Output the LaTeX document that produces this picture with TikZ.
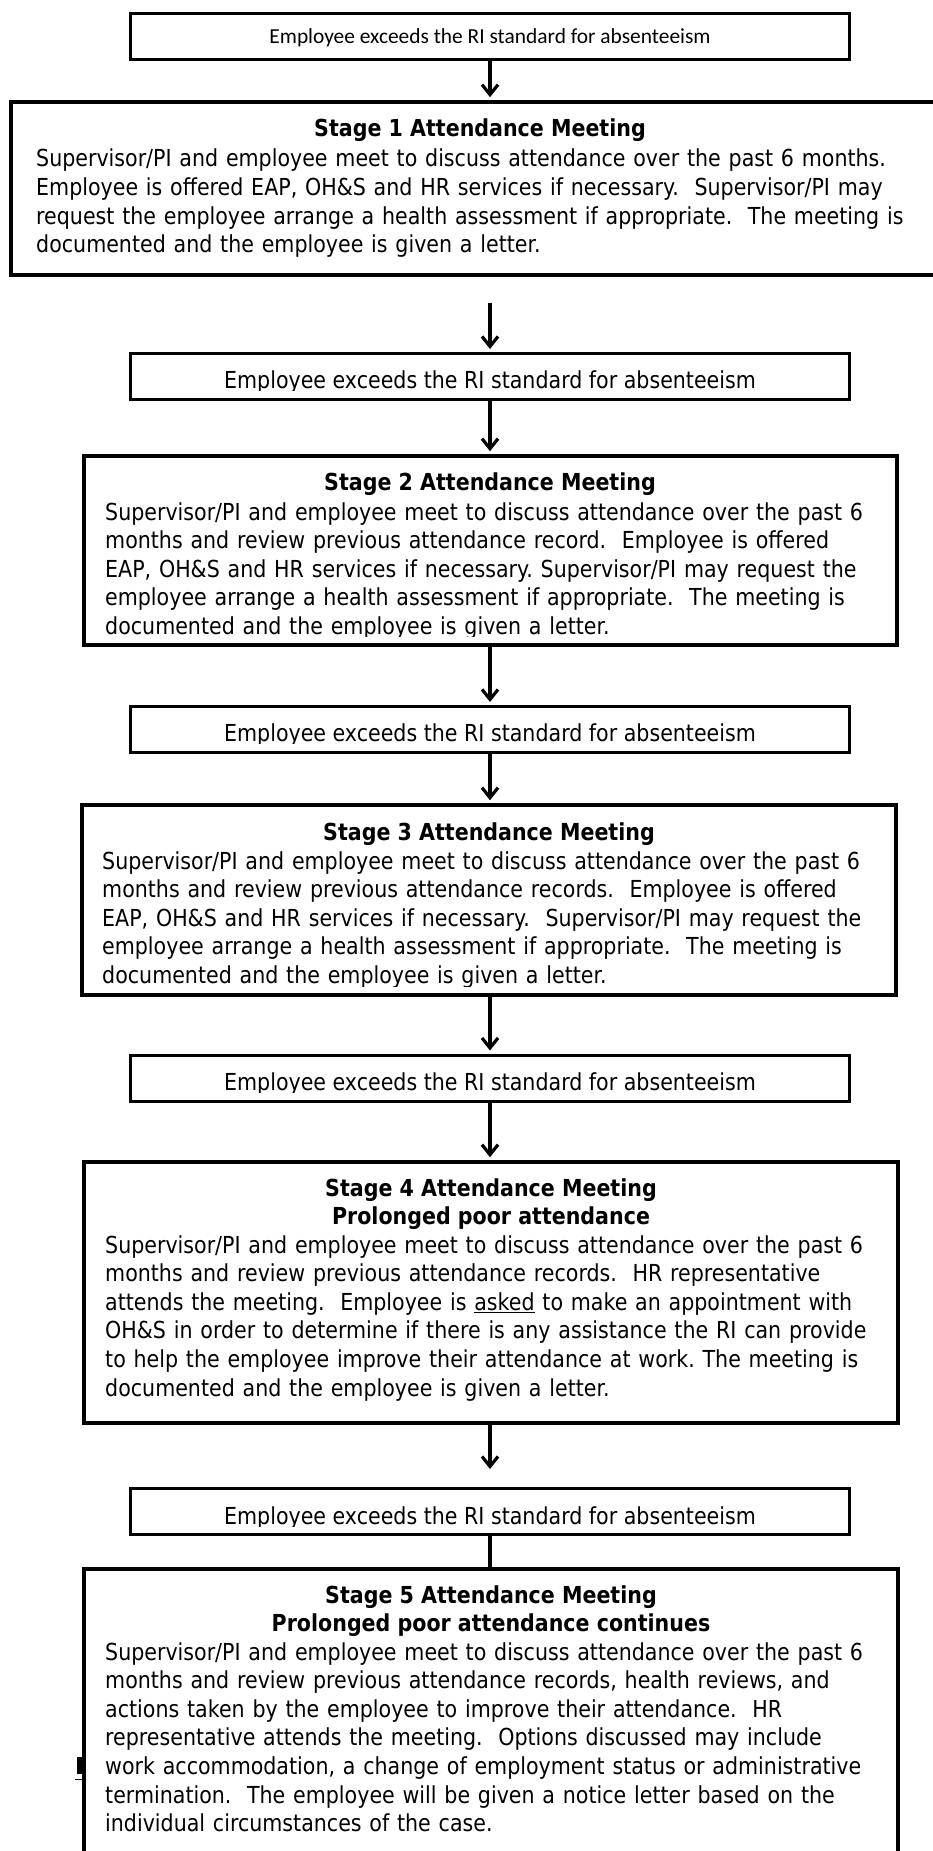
\documentclass[tikz,border=0pt]{standalone}
\usepackage{fontspec}
\setmainfont{DejaVu Sans}[FakeStretch=0.88]
\newfontfamily\calib{Carlito}
\usetikzlibrary{arrows.meta}
\newcommand\stgfont{\fontsize{23.4}{28.6}\selectfont\frenchspacing}
\begin{document}
\begin{tikzpicture}[x=1pt,y=-1pt,
  smallbox/.style={draw, line width=3pt, minimum width=719pt, minimum height=46pt, inner sep=0pt},
  stagebox/.style={draw, line width=3.6pt, inner sep=0pt},
  arr/.style={line width=3.2pt, shorten >=3pt, -{Straight Barb[length=10pt,width=16pt]}},
  link/.style={line width=3.2pt},
  bodytext/.style={anchor=base west, inner sep=0pt, text width=900pt, align=left, font=\stgfont},
  titletext/.style={anchor=base, inner sep=0pt, font=\stgfont\bfseries},
  labeltext/.style={anchor=base, inner sep=0pt, font=\stgfont},
]
\useasboundingbox (0,0) rectangle (933,1851);

% ---------- top trigger ----------
\node[smallbox] (e1) at (490,36.5) {};
\node[labeltext, font=\calib\fontsize{21.4}{25}\selectfont] (t1) at (490,43.5) {Employee exceeds the RI standard for absenteeism};

% ---------- Stage 1 ----------
\node[stagebox, minimum width=940pt, minimum height=173pt] (s1) at (481,188.5) {};
\node[titletext] (h1) at (480,137) {Stage 1 Attendance Meeting};
\node[bodytext] (b1) at (36,167) {Supervisor/PI and employee meet to discuss attendance over the past 6 months.\\
Employee is offered EAP, OH\&S and HR services if necessary.~~Supervisor/PI may\\
request the employee arrange a health assessment if appropriate.~~The meeting is\\
documented and the employee is given a letter.};

% ---------- trigger 2 ----------
\node[smallbox] (e2) at (490,376.5) {};
\begin{scope}
\clip (140,340) rectangle (840,390);
\node[labeltext] (t2) at (490,388) {Employee exceeds the RI standard for absenteeism};
\end{scope}

% ---------- Stage 2 ----------
\node[stagebox, minimum width=813pt, minimum height=189pt] (s2) at (490.5,550.5) {};
\node[titletext] (h2) at (490,490) {Stage 2 Attendance Meeting};
\begin{scope}
\clip (90,460) rectangle (893,636);
\node[bodytext] (b2) at (105,520) {Supervisor/PI and employee meet to discuss attendance over the past 6\\
months and review previous attendance record.~~Employee is offered\\
EAP, OH\&S and HR services if necessary. Supervisor/PI may request the\\
employee arrange a health assessment if appropriate.~~The meeting is\\
documented and the employee is given a letter.};
\end{scope}

% ---------- trigger 3 ----------
\node[smallbox] (e3) at (490,729.5) {};
\begin{scope}
\clip (140,700) rectangle (840,743);
\node[labeltext] (t3) at (490,741) {Employee exceeds the RI standard for absenteeism};
\end{scope}

% ---------- Stage 3 ----------
\node[stagebox, minimum width=814pt, minimum height=190pt] (s3) at (489,900) {};
\node[titletext] (h3) at (489,840) {Stage 3 Attendance Meeting};
\begin{scope}
\clip (88,810) rectangle (892,986);
\node[bodytext] (b3) at (102,869) {Supervisor/PI and employee meet to discuss attendance over the past 6\\
months and review previous attendance records.~~Employee is offered\\
EAP, OH\&S and HR services if necessary.~~Supervisor/PI may request the\\
employee arrange a health assessment if appropriate.~~The meeting is\\
documented and the employee is given a letter.};
\end{scope}

% ---------- trigger 4 ----------
\node[smallbox] (e4) at (490,1078) {};
\begin{scope}
\clip (140,1050) rectangle (840,1092);
\node[labeltext] (t4) at (490,1090) {Employee exceeds the RI standard for absenteeism};
\end{scope}

% ---------- Stage 4 ----------
\node[stagebox, minimum width=814pt, minimum height=261pt] (s4) at (491,1292.5) {};
\node[titletext] (h4) at (491,1196) {Stage 4 Attendance Meeting};
\node[titletext] (h4b) at (491,1224.5) {Prolonged poor attendance};
\node[bodytext] (b4) at (105,1253) {Supervisor/PI and employee meet to discuss attendance over the past 6\\
months and review previous attendance records.~~HR representative\\
attends the meeting.~~Employee is \underline{asked} to make an appointment with\\
OH\&S in order to determine if there is any assistance the RI can provide\\
to help the employee improve their attendance at work. The meeting is\\
documented and the employee is given a letter.};

% ---------- trigger 5 ----------
\node[smallbox] (e5) at (490,1511.5) {};
\begin{scope}
\clip (140,1480) rectangle (840,1526);
\node[labeltext] (t5) at (490,1524) {Employee exceeds the RI standard for absenteeism};
\end{scope}

% ---------- stray mark behind Stage 5 ----------
\fill (77,1757) rectangle (83,1774);
\draw[line width=1pt] (75,1779) -- (83,1779);

% ---------- Stage 5 ----------
\node[stagebox, minimum width=814pt, minimum height=320pt] (s5) at (491,1729) {};
\node[titletext] (h5) at (491,1603) {Stage 5 Attendance Meeting};
\node[titletext] (h5b) at (491,1631.5) {Prolonged poor attendance continues};
\node[bodytext] (b5) at (105,1660) {Supervisor/PI and employee meet to discuss attendance over the past 6\\
months and review previous attendance records, health reviews, and\\
actions taken by the employee to improve their attendance.~~HR\\
representative attends the meeting.~~Options discussed may include\\
work accommodation, a change of employment status or administrative\\
termination.~~The employee will be given a notice letter based on the\\
individual circumstances of the case.};

% ---------- connectors ----------
\coordinate (a2) at (490,303);
\draw[arr] (e1.south -| a2) -- (s1.north -| a2);
\draw[arr] (a2) -- (e2.north -| a2);
\draw[arr] (e2.south -| a2) -- (s2.north -| a2);
\draw[arr] (s2.south -| a2) -- (e3.north -| a2);
\draw[arr] (e3.south -| a2) -- (s3.north -| a2);
\draw[arr] (s3.south -| a2) -- (e4.north -| a2);
\draw[arr] (e4.south -| a2) -- (s4.north -| a2);
\draw[arr, shorten >=18pt] (s4.south -| a2) -- (e5.north -| a2);
\draw[link] (e5.south -| a2) -- (s5.north -| a2);
\end{tikzpicture}
\end{document}
